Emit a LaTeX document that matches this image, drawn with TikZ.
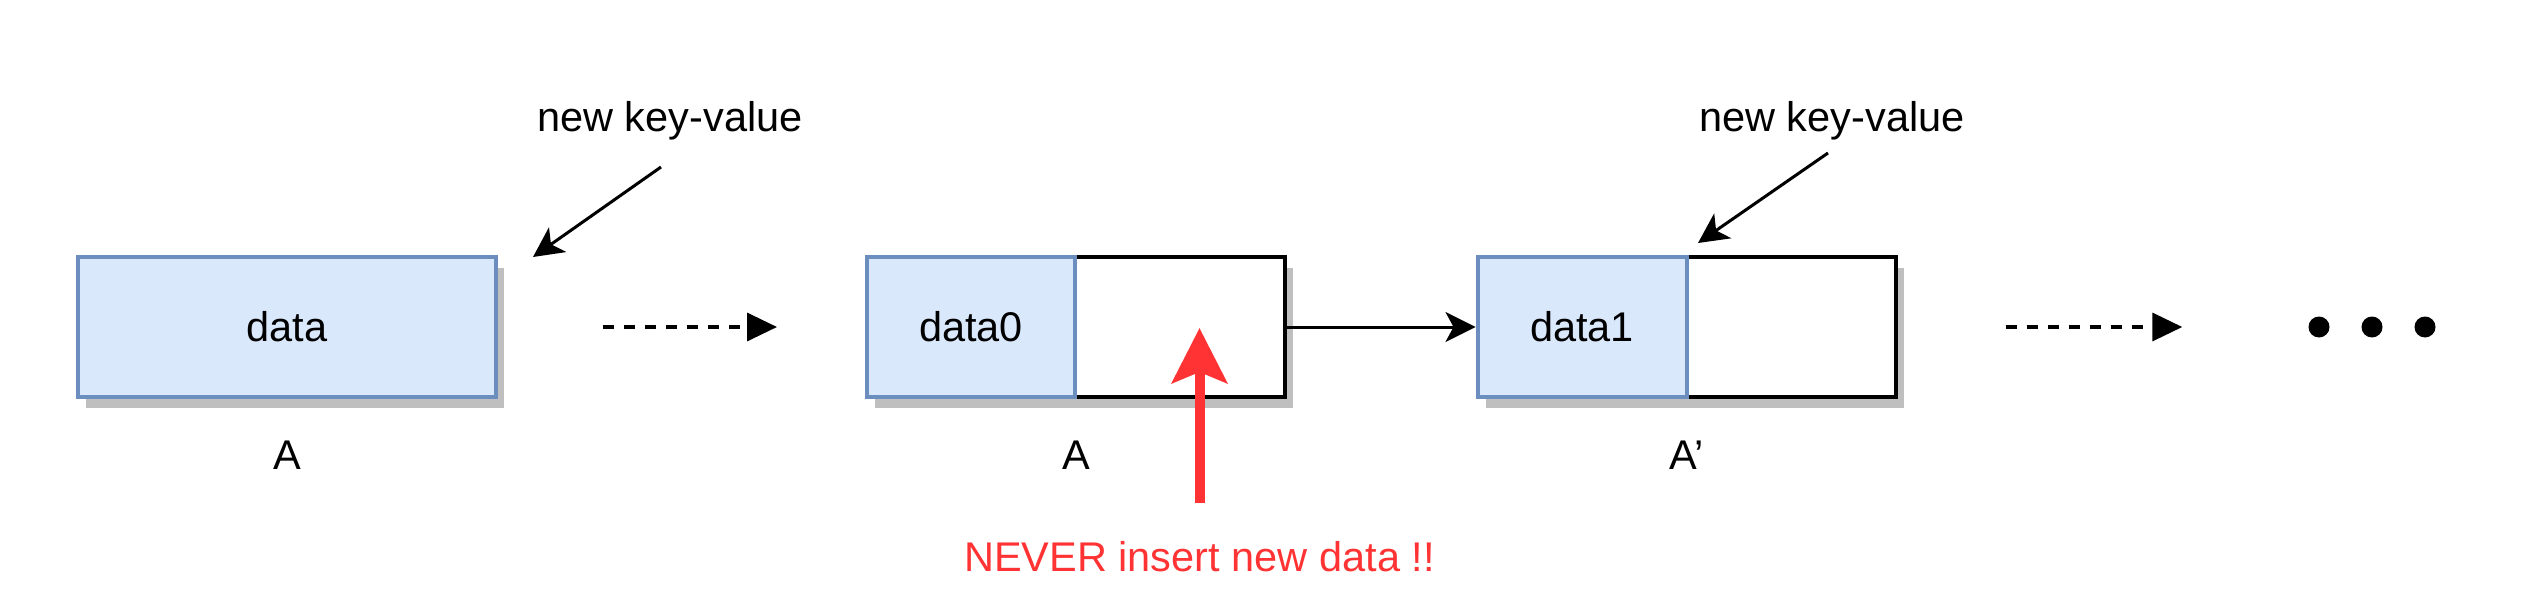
\documentclass[tikz,border=0pt]{standalone}
\usepackage{fontspec}
\setmainfont{Liberation Sans}
\usetikzlibrary{positioning, shadows, arrows.meta}
\definecolor{cellfill}{HTML}{DAE8FC}
\definecolor{celldraw}{HTML}{6C8EBF}
\definecolor{warnred}{HTML}{FF3333}

\begin{document}
\begin{tikzpicture}[x = 1pt, y = 1pt,
  font = \fontsize{41.5}{50}\selectfont,
  boxshadow/.style = {drop shadow = {shadow xshift = 8pt, shadow yshift = -11pt, fill = black!25, opacity = 1}},
  keycell/.style = {draw = celldraw, fill = cellfill, line width = 4pt, minimum height = 140pt, inner sep = 0pt},
  record/.style = {draw = black, fill = white, line width = 4pt, minimum width = 418pt, minimum height = 140pt, inner sep = 0pt, boxshadow},
  lbl/.style = {inner sep = 0pt},
  ptr/.style = {line width = 3pt, -{Stealth[length = 30pt, width = 30pt, inset = 8pt]}},
  jump/.style = {line width = 3.5pt, dash pattern = on 11pt off 10pt, -{Triangle[length = 30pt, width = 28pt]}}]
\useasboundingbox (0, 0) rectangle (2524, 614);

% A, before
\node[keycell, minimum width = 418pt, boxshadow] (box) at (287, 287) {data};
\node[lbl, below = 42pt of box] (boxA) {A};

% A, after
\node[record] (rec0) at (1076, 287) {};
\node[keycell, minimum width = 208pt, anchor = west] (key0) at (rec0.west) {data0};
\node[lbl, below = 42pt of rec0] (recA) {A};

% A'
\node[record] (rec1) at (1686.5, 287) {};
\node[keycell, minimum width = 209pt, anchor = west] (key1) at (rec1.west) {data1};
\node[lbl, below = 42pt of rec1] (recB) {A’};

\foreach \i/\x in {1/2319, 2/2372, 3/2425}
  \node[circle, fill = black, minimum size = 21pt, inner sep = 0pt] (dot\i) at (\x, 287) {};

% new key-value
\node[lbl, anchor = base] (kv0) at (670, 482) {new key-value};
\node[lbl, anchor = base] (kv1) at (1832, 482) {new key-value};
\coordinate (kv0tail) at (661, 447);
\coordinate (kv0tip) at (533, 357);
\coordinate (kv1tail) at (1828, 461);
\coordinate (kv1tip) at (1698, 371);
\draw[ptr] (kv0tail) -- (kv0tip);
\draw[ptr] (kv1tail) -- (kv1tip);

\draw[jump, shorten <= 105pt, shorten >= 88pt] (box.east) -- (rec0.west);
\draw[ptr] (rec0.east) -- (key1.west);
\draw[jump, shorten <= 108pt, shorten >= 126pt] (rec1.east) -- (dot1.west);

% warning
\node[lbl, text = warnred, anchor = base] (warn) at (1199.5, 43) {NEVER insert new data !!};
\coordinate (hit) at (1199, 286);
\draw[warnred, line width = 10pt, shorten <= 38pt, -{Stealth[length = 55pt, width = 55pt, inset = 11pt]}] (warn.north) -- (warn.north |- hit);
\end{tikzpicture}
\end{document}
